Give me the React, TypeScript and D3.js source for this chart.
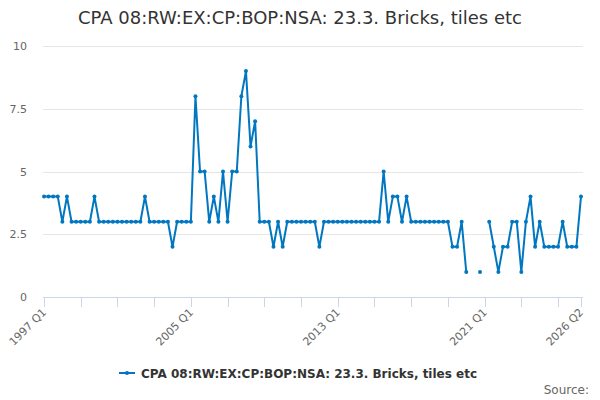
import { useEffect, useRef } from 'react';
import * as d3 from 'd3';

const title = 'CPA 08:RW:EX:CP:BOP:NSA: 23.3. Bricks, tiles etc';
const seriesName = 'CPA 08:RW:EX:CP:BOP:NSA: 23.3. Bricks, tiles etc';

// quarterly, 1997 Q1 .. 2026 Q2 (null = no value)
const startYear = 1997;
const values: (number | null)[] = [
  4, 4, 4, 4, 3, 4, 3, 3, 3, 3, 3, 4, 3, 3, 3, 3, 3, 3, 3, 3,
  3, 3, 4, 3, 3, 3, 3, 3, 2, 3, 3, 3, 3, 8, 5, 5, 3, 4, 3, 5,
  3, 5, 5, 8, 9, 6, 7, 3, 3, 3, 2, 3, 2, 3, 3, 3, 3, 3, 3, 3,
  2, 3, 3, 3, 3, 3, 3, 3, 3, 3, 3, 3, 3, 3, 5, 3, 4, 4, 3, 4,
  3, 3, 3, 3, 3, 3, 3, 3, 3, 2, 2, 3, 1, null, null, 1, null, 3, 2, 1,
  2, 2, 3, 3, 1, 3, 4, 2, 3, 2, 2, 2, 2, 3, 2, 2, 2, 4,
];
const yTicks = [0, 2.5, 5, 7.5, 10];
const labelledQuarters = ['1997 Q1', '2005 Q1', '2013 Q1', '2021 Q1', '2026 Q2'];

const quarterLabel = (i: number) => `${startYear + Math.floor(i / 4)} Q${(i % 4) + 1}`;

export default function App() {
  const ref = useRef<SVGSVGElement>(null);

  useEffect(() => {
    const svg = d3.select(ref.current);
    svg.selectAll('*').remove();
    const font = '"DejaVu Sans", sans-serif';
    const blue = '#0077c0';

    const n = values.length;
    const x = d3.scaleLinear().domain([0, n - 1]).range([44, 581]);
    const y = d3.scaleLinear().domain([0, 10]).range([297, 46]);

    // title
    svg
      .append('text')
      .attr('x', 300)
      .attr('y', 24)
      .attr('text-anchor', 'middle')
      .attr('font-family', font)
      .attr('font-size', 18)
      .attr('fill', '#333')
      .text(title);

    // grid + y labels
    const gy = svg.append('g');
    gy.selectAll('line')
      .data(yTicks.filter((t) => t > 0))
      .join('line')
      .attr('x1', 43)
      .attr('x2', 583)
      .attr('y1', (d) => Math.round(y(d)) + 0.5)
      .attr('y2', (d) => Math.round(y(d)) + 0.5)
      .attr('stroke', '#e6e6e6');
    gy.selectAll('text')
      .data(yTicks)
      .join('text')
      .attr('x', 27)
      .attr('y', (d) => y(d) + 4)
      .attr('text-anchor', 'end')
      .attr('font-family', font)
      .attr('font-size', 11)
      .attr('fill', '#666')
      .text((d) => d3.format('~g')(d));

    // x axis
    const tickIdx = d3.range(0, n, 8).concat([n - 1]);
    const gx = svg.append('g');
    gx.append('line')
      .attr('x1', 43)
      .attr('x2', 583)
      .attr('y1', 297.5)
      .attr('y2', 297.5)
      .attr('stroke', '#ccd6eb');
    gx.selectAll('line.tick')
      .data(tickIdx)
      .join('line')
      .attr('class', 'tick')
      .attr('x1', (d) => Math.round(x(d)) + 0.5)
      .attr('x2', (d) => Math.round(x(d)) + 0.5)
      .attr('y1', 297)
      .attr('y2', 307)
      .attr('stroke', '#ccd6eb');
    gx.selectAll('text')
      .data(tickIdx.filter((i) => labelledQuarters.includes(quarterLabel(i))))
      .join('text')
      .attr('transform', (d) => `translate(${x(d) + 3},${313}) rotate(-45)`)
      .attr('text-anchor', 'end')
      .attr('font-family', font)
      .attr('font-size', 11)
      .attr('fill', '#666')
      .text((d) => quarterLabel(d));

    // series
    const line = d3
      .line<number | null>()
      .defined((d) => d !== null)
      .x((_d, i) => x(i))
      .y((d) => y(d as number));
    svg
      .append('path')
      .datum(values)
      .attr('d', line)
      .attr('fill', 'none')
      .attr('stroke', blue)
      .attr('stroke-width', 2)
      .attr('stroke-linejoin', 'round');
    svg
      .append('g')
      .selectAll('circle')
      .data(values.map((v, i) => ({ v, i })).filter((d) => d.v !== null))
      .join('circle')
      .attr('cx', (d) => x(d.i))
      .attr('cy', (d) => y(d.v as number))
      .attr('r', 2)
      .attr('fill', blue);

    // legend
    const lg = svg.append('g');
    lg.append('line')
      .attr('x1', 119)
      .attr('x2', 135)
      .attr('y1', 373)
      .attr('y2', 373)
      .attr('stroke', blue)
      .attr('stroke-width', 2);
    lg.append('circle').attr('cx', 127).attr('cy', 373).attr('r', 2).attr('fill', blue);
    lg.append('text')
      .attr('x', 141)
      .attr('y', 377.5)
      .attr('font-family', font)
      .attr('font-size', 12)
      .attr('font-weight', 'bold')
      .attr('fill', '#333')
      .text(seriesName);

    // credits
    svg
      .append('text')
      .attr('x', 589)
      .attr('y', 394)
      .attr('text-anchor', 'end')
      .attr('font-family', font)
      .attr('font-size', 12)
      .attr('fill', '#666')
      .text('Source:');
  }, []);

  return (
    <svg
      ref={ref}
      width={600}
      height={400}
      style={{ position: 'absolute', left: 0, top: 0, background: '#fff' }}
    />
  );
}
